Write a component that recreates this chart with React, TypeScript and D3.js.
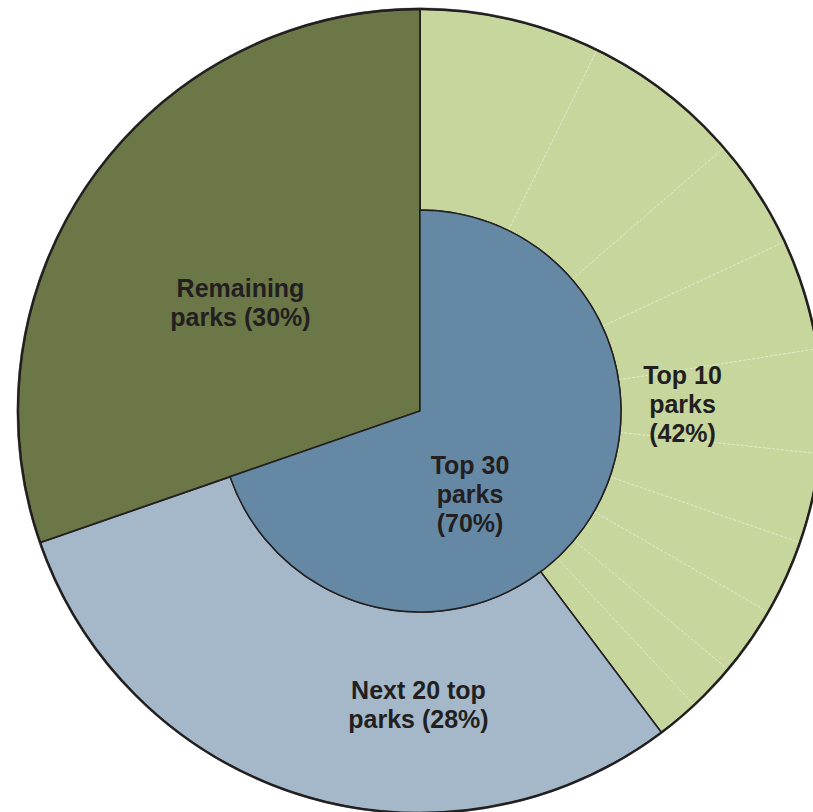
import React from "react";
import * as d3 from "d3";

// Shares of all visits (%)
const top10Shares = [7.25, 6.39, 4.44, 4.44, 4.17, 3.61, 3.03, 2.78, 1.94, 1.69];
const next20Share = 29.94;
const remainingShare = 30.3;

const groupNames = ["Top 10 parks", "Next 20 top parks", "Remaining parks"];
const groupLabels = [
  ["Top 10", "parks", "(42%)"],
  ["Next 20 top", "parks (28%)"],
  ["Remaining", "parks (30%)"],
];
const innerLabel = ["Top 30", "parks", "(70%)"];

const W = 813;
const H = 812;
const cx = 420;
const cy = 411;
const R = 402;
const r0 = 201;

const COLORS = {
  top10: "#c6d69d",
  next20: "#a4b8c9",
  remaining: "#6b7747",
  top30: "#6588a4",
  stroke: "#231f20",
};

export default function App() {
  const top10Sum = d3.sum(top10Shares);
  const groups = [top10Sum, next20Share, remainingShare];
  const pie = d3.pie<number>().sort(null).startAngle(0).endAngle(2 * Math.PI);
  const groupArcs = pie(groups);
  const total = d3.sum(groups);
  const angle = d3.scaleLinear().domain([0, total]).range([0, 2 * Math.PI]);

  const ringArc = d3.arc<any>().innerRadius(r0).outerRadius(R);
  const fullArc = d3.arc<any>().innerRadius(0).outerRadius(R);
  const discArc = d3.arc<any>().innerRadius(0).outerRadius(r0);

  const cum = d3.cumsum(top10Shares);
  const subBounds = Array.from(cum).slice(0, -1).map((v) => angle(v));

  const top30End = angle(top10Sum + next20Share);

  const pt = (a: number, rad: number) => [Math.sin(a) * rad, -Math.cos(a) * rad];

  const font = "'Liberation Sans', Arial, Helvetica, sans-serif";
  const fs = 25;
  const lh = 29.3;

  const textBlock = (lines: string[], x: number, y0: number, key: string) => (
    <text
      key={key}
      x={x}
      y={y0}
      textAnchor="middle"
      fontFamily={font}
      fontWeight="bold"
      fontSize={fs}
      fill={COLORS.stroke}
    >
      {lines.map((l, i) => (
        <tspan key={i} x={x} y={y0 + i * lh}>
          {l}
        </tspan>
      ))}
    </text>
  );

  return (
    <svg
      width={W}
      height={H}
      style={{ position: "absolute", left: 0, top: 0, display: "block" }}
    >
      <g transform={`translate(${cx},${cy})`}>
        <path d={ringArc(groupArcs[0]) as string} fill={COLORS.top10} />
        {subBounds.map((a, i) => {
          const [x1, y1] = pt(a, r0);
          const [x2, y2] = pt(a, R);
          return (
            <line
              key={i}
              x1={x1}
              y1={y1}
              x2={x2}
              y2={y2}
              stroke="#eef3de"
              strokeWidth={0.7}
              strokeDasharray="3,1.5"
            />
          );
        })}
        <path
          d={ringArc(groupArcs[0]) as string}
          fill="none"
          stroke={COLORS.stroke}
          strokeWidth={1.5}
        />
        <path
          d={ringArc(groupArcs[1]) as string}
          fill={COLORS.next20}
          stroke={COLORS.stroke}
          strokeWidth={1.5}
        />
        <path
          d={fullArc(groupArcs[2]) as string}
          fill={COLORS.remaining}
          stroke={COLORS.stroke}
          strokeWidth={1.8}
        />
        <path
          d={discArc({ startAngle: 0, endAngle: top30End }) as string}
          fill={COLORS.top30}
          stroke={COLORS.stroke}
          strokeWidth={1.5}
        />
        <circle r={R + 1} fill="none" stroke="#9a9899" strokeWidth={1} />
        <circle r={R} fill="none" stroke={COLORS.stroke} strokeWidth={2.4} />
      </g>
      {textBlock(groupLabels[2], 240.5, 296.7, "rem")}
      {textBlock(groupLabels[0], 682.5, 383.5, "t10")}
      {textBlock(innerLabel, 470, 473.5, "t30")}
      {textBlock(groupLabels[1], 418.5, 698.5, "n20")}
      <title>{groupNames.join(", ")}</title>
    </svg>
  );
}
